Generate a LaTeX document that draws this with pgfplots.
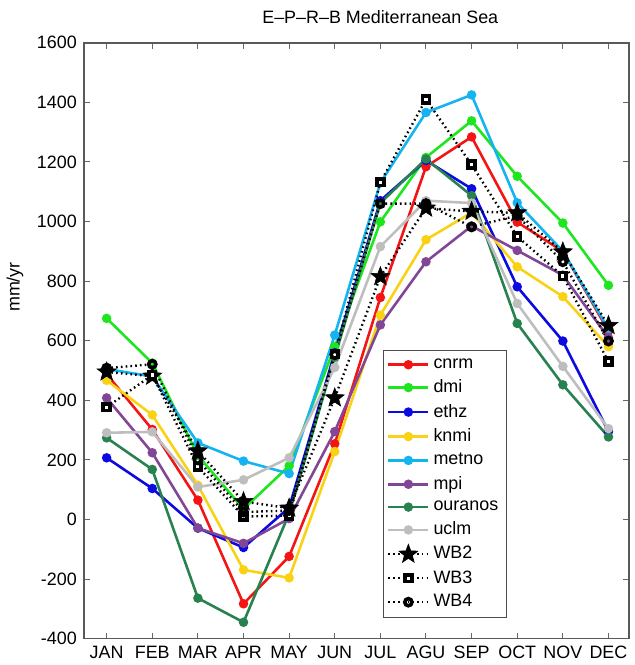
\documentclass[border=0pt]{standalone}
\usepackage{fontspec}
\setmainfont{Liberation Sans}
\usepackage{pgfplots}
\usepackage{pgfplotstable}
\pgfplotsset{compat=1.18}

% model colours
\definecolor{ccnrm}{RGB}{245,20,20}
\definecolor{cdmi}{RGB}{30,230,30}
\definecolor{cethz}{RGB}{10,10,225}
\definecolor{cknmi}{RGB}{250,210,20}
\definecolor{cmetno}{RGB}{20,180,240}
\definecolor{cmpi}{RGB}{130,70,150}
\definecolor{couranos}{RGB}{40,130,80}
\definecolor{cuclm}{RGB}{190,190,190}

% filled five-point star
\pgfdeclareplotmark{fstar}{%
  \pgfpathmoveto{\pgfpointpolar{90}{\pgfplotmarksize}}%
  \pgfpathlineto{\pgfpointpolar{126}{0.42\pgfplotmarksize}}%
  \pgfpathlineto{\pgfpointpolar{162}{\pgfplotmarksize}}%
  \pgfpathlineto{\pgfpointpolar{198}{0.42\pgfplotmarksize}}%
  \pgfpathlineto{\pgfpointpolar{234}{\pgfplotmarksize}}%
  \pgfpathlineto{\pgfpointpolar{270}{0.42\pgfplotmarksize}}%
  \pgfpathlineto{\pgfpointpolar{306}{\pgfplotmarksize}}%
  \pgfpathlineto{\pgfpointpolar{342}{0.42\pgfplotmarksize}}%
  \pgfpathlineto{\pgfpointpolar{18}{\pgfplotmarksize}}%
  \pgfpathlineto{\pgfpointpolar{54}{0.42\pgfplotmarksize}}%
  \pgfpathclose
  \pgfusepathqfillstroke
}

% monthly E-P-R-B, mm/yr
\pgfplotstableread{
m cnrm dmi  ethz knmi metno mpi ouranos uclm wbtwo wbthree wbfour
1  488  675  207  467  505   408  274    291  495   377     508
2  302  525  104  351  480   224  168    294  481   485     521
3  65   215  -29  115  257   -29  -264   109  230   177     200
4  -283 35   -94  -169 196   -80  -345   133  60    10      25
5  -124 180  40   -196 154   3    20     207  38    13      30
6  254  580  560  228  619   295  545    510  408   555     553
7  745  999  1070 686  1130  653  1062   916  815   1132    1060
8  1184 1215 1205 939  1366  865  1210   1070 1045  1410    1060
9  1284 1338 1110 1030 1425  985  1087   1062 1034  1191    982
10 998  1152 781  848  1063  903  658    725  1029  950     1020
11 900  995  599  748  900   820  452    514  898   817     865
12 632  786  295  580  640   610  277    305  651   530     599
}\data

\begin{document}
\begin{tikzpicture}
\begin{axis}[
  scale only axis,
  width=274pt, height=299.5pt,
  font=\fontsize{9}{11}\selectfont,
  /pgf/number format/assume math mode=true,
  xmin=0.5, xmax=12.45,
  ymin=-400, ymax=1600,
  xtick={1,...,12},
  xticklabels={JAN,FEB,MAR,APR,MAY,JUN,JUL,AGU,SEP,OCT,NOV,DEC},
  ytick={-400,-200,...,1600},
  yticklabel style={/pgf/number format/1000 sep={}},
  tick align=inside,
  major tick length=3pt,
  tick style={black!60, line width=0.5pt},
  axis line style={black!65, line width=0.8pt},
  title={E--P--R--B Mediterranean Sea},
  title style={xshift=12pt, yshift=0pt},
  ylabel={mm/yr},
  ylabel style={xshift=27pt},
  every axis plot/.append style={line width=1.3pt, mark size=1.7pt},
  legend image code/.code={%
    \draw[mark repeat=2,mark phase=2] plot coordinates {(0pt,0pt) (10pt,0pt) (20pt,0pt)};},
  legend cell align=left,
  legend style={at={(rel axis cs:0.548,0.034)}, anchor=south west,
    draw=black!70, line width=0.6pt, row sep=0.3pt,
    font=\fontsize{9}{11}\selectfont, inner sep=2pt},
]
\addplot[color=ccnrm, mark=*] table[x=m, y=cnrm] {\data};
\addlegendentry{cnrm}
\addplot[color=cdmi, mark=*] table[x=m, y=dmi] {\data};
\addlegendentry{dmi}
\addplot[color=cethz, mark=*] table[x=m, y=ethz] {\data};
\addlegendentry{ethz}
\addplot[color=cknmi, mark=*] table[x=m, y=knmi] {\data};
\addlegendentry{knmi}
\addplot[color=cmetno, mark=*] table[x=m, y=metno] {\data};
\addlegendentry{metno}
\addplot[color=cmpi, mark=*] table[x=m, y=mpi] {\data};
\addlegendentry{mpi}
\addplot[color=couranos, mark=*] table[x=m, y=ouranos] {\data};
\addlegendentry{ouranos}
\addplot[color=cuclm, mark=*] table[x=m, y=uclm] {\data};
\addlegendentry{uclm}
\addplot[black, dash pattern=on 0.8pt off 1.6pt, line width=1.2pt, mark=fstar,
  mark size=5pt, mark options={solid, line width=0.3pt}]
  table[x=m, y=wbtwo] {\data};
\addlegendentry{WB2}
\addplot[black, dash pattern=on 0.8pt off 1.6pt, line width=1.2pt, mark=square*,
  mark size=1.7pt, mark options={solid, fill=white, line width=1.8pt}]
  table[x=m, y=wbthree] {\data};
\addlegendentry{WB3}
\addplot[black, dash pattern=on 0.8pt off 1.6pt, line width=1.2pt, mark=o,
  mark size=1.8pt, mark options={solid, line width=1.8pt}]
  table[x=m, y=wbfour] {\data};
\addlegendentry{WB4}
\end{axis}
% white space above the title, as in the original figure
\path (current axis.north) ++(0,21.5pt);
\end{tikzpicture}
\end{document}
